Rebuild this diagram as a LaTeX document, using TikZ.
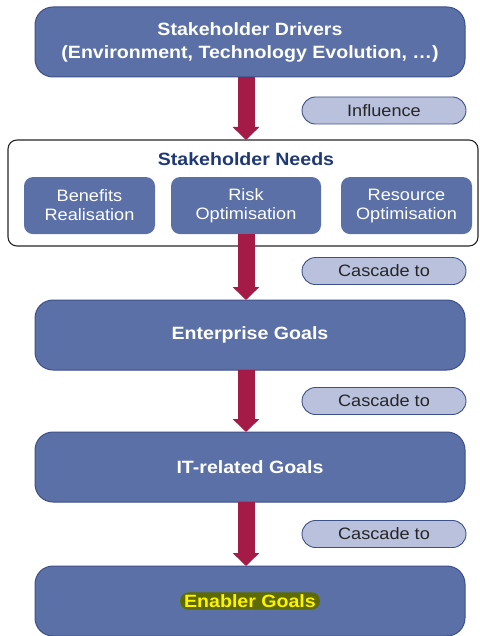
\documentclass[tikz,border=0pt]{standalone}
\usepackage{fontspec}
\setmainfont{Liberation Sans}
\newfontfamily\widefont[FakeStretch=1.1]{Liberation Sans}
\usepackage{xcolor}
\usepackage{tikz}
\usetikzlibrary{arrows.meta,positioning,calc}
\definecolor{boxblue}{HTML}{5B70A6}
\definecolor{boxedge}{HTML}{3E5088}
\definecolor{pillfill}{HTML}{B9C1DD}
\definecolor{crimson}{HTML}{A31B46}
\definecolor{navy}{HTML}{1F3876}
\definecolor{olive}{HTML}{5E6B00}

\begin{document}
\begin{tikzpicture}[
  node distance=62pt,
  goal/.style={rectangle, rounded corners=18pt, draw=boxedge, line width=1pt, fill=boxblue, text=white, align=center, minimum width=430pt, minimum height=70pt, outer sep=0pt, font=\widefont\bfseries\fontsize{17.8}{23}\selectfont},
  subbox/.style={rectangle, rounded corners=9pt, fill=boxblue, text=white, align=center, minimum height=57pt, inner sep=0pt, outer sep=0pt, font=\widefont\fontsize{16.5}{19}\selectfont},
  pill/.style={rectangle, rounded corners=13.5pt, draw=boxedge, line width=0.9pt, fill=pillfill, text=black!85, minimum width=164pt, minimum height=27pt, outer sep=0pt, font=\widefont\fontsize{16.5}{19}\selectfont},
  flow/.style={draw=crimson, line width=17pt, -{Triangle[width=26pt,length=13pt]}}
]
  \useasboundingbox (0pt,0pt) rectangle (479pt,-636pt);

  \node[goal] (drivers) at (250pt,-42pt) {Stakeholder Drivers\\(Environment, Technology Evolution, \dots)};
  \node[rectangle, rounded corners=9pt, draw=black!85, line width=1.1pt, minimum width=470pt, minimum height=106pt, outer sep=0pt, below=63pt of drivers, xshift=-7pt] (needs) {};
  \node[inner sep=0pt, outer sep=0pt, text=navy, font=\widefont\bfseries\fontsize{17.8}{23}\selectfont, below=13pt of needs.north, xshift=3pt] (needstitle) {Stakeholder Needs};
  \node[subbox, minimum width=150pt, below=11pt of needstitle] (risk) {Risk\\Optimisation};
  \node[subbox, minimum width=131pt, left=16pt of risk] (benefits) {Benefits\\Realisation};
  \node[subbox, minimum width=131pt, right=20pt of risk] (resource) {Resource\\Optimisation};

  \node[goal, below=54pt of needs, xshift=7pt] (enterprise) {Enterprise Goals};
  \node[goal, below=of enterprise] (itgoals) {IT-related Goals};
  \node[goal, below=64pt of itgoals] (enabler) {};
  \node[fill=olive, text=yellow, rounded corners=8pt, inner xsep=4pt, inner ysep=2pt, font=\widefont\bfseries\fontsize{17.8}{23}\selectfont] (enablerlabel) at (enabler) {Enabler Goals};

  \draw[flow] (drivers.south -| risk) -- (needs.north -| risk);
  \draw[flow] (risk.south) -- (enterprise.north -| risk);
  \draw[flow] (enterprise.south -| risk) -- (itgoals.north -| risk);
  \draw[flow] (itgoals.south -| risk) -- (enabler.north -| risk);

  \node[pill, xshift=138pt, yshift=-2pt] (influence) at ($(drivers.south -| risk)!0.5!(needs.north -| risk)$) {Influence};
  \node[pill, xshift=138pt, yshift=-4pt] (cascade1) at ($(risk.south)!0.5!(enterprise.north -| risk)$) {Cascade to};
  \node[pill, xshift=138pt] (cascade2) at ($(enterprise.south -| risk)!0.5!(itgoals.north -| risk)$) {Cascade to};
  \node[pill, xshift=138pt] (cascade3) at ($(itgoals.south -| risk)!0.5!(enabler.north -| risk)$) {Cascade to};
\end{tikzpicture}
\end{document}
